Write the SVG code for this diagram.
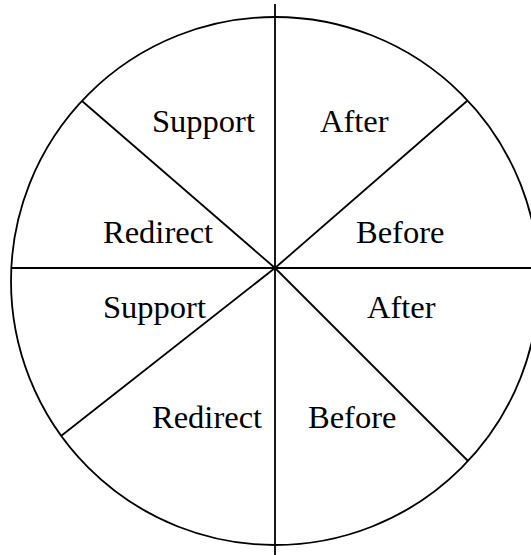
<svg xmlns="http://www.w3.org/2000/svg" width="531" height="555" viewBox="0 0 531 555">
<style>
.ln{stroke:#000;stroke-width:1.8;fill:none}
.t{font-family:"Liberation Serif","Times New Roman",serif;font-size:32.5px;fill:#000}
</style>
<rect width="531" height="555" fill="#fff"/>
<g id="connectors">
<circle class="ln" cx="275" cy="281" r="264"/>
<line class="ln" x1="275" y1="4" x2="275" y2="555"/>
<line class="ln" x1="12" y1="268" x2="531" y2="268"/>
<line class="ln" x1="82" y1="101" x2="275" y2="268"/>
<line class="ln" x1="467" y1="101" x2="275" y2="268"/>
<line class="ln" x1="61" y1="436" x2="275" y2="268"/>
<line class="ln" x1="468" y1="461" x2="275" y2="268"/>
</g>
<g id="n1"><text class="t" x="152" y="132">Support</text></g>
<g id="n2"><text class="t" x="320" y="132">After</text></g>
<g id="n3"><text class="t" x="103" y="243">Redirect</text></g>
<g id="n4"><text class="t" x="356" y="243">Before</text></g>
<g id="n5"><text class="t" x="103" y="318">Support</text></g>
<g id="n6"><text class="t" x="367" y="318">After</text></g>
<g id="n7"><text class="t" x="152" y="428">Redirect</text></g>
<g id="n8"><text class="t" x="308" y="428">Before</text></g>
</svg>
